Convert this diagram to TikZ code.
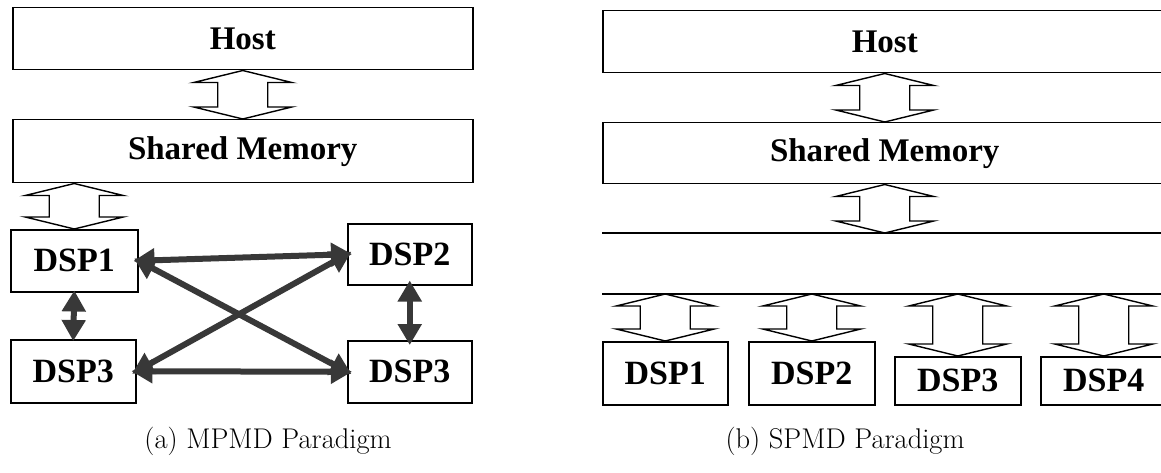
\documentclass[tikz,border=0pt]{standalone}
\usepackage{fontspec}
\newfontfamily\boxfont{Liberation Serif}[BoldFont={Liberation Serif Bold}]
\usetikzlibrary{arrows.meta,calc}

% bold Times-like labels inside the boxes
\newcommand\lbl{\boxfont\bfseries\fontsize{33}{38}\selectfont}
\newcommand\dsplbl{\boxfont\bfseries\fontsize{34}{40}\selectfont}
% spaced-out roman captions
\newcommand\capstyle{\fontsize{28.5}{34}\selectfont\addfontfeatures{LetterSpace=3}}

% hollow double-headed bus arrow between two points on the same vertical
\newcommand\busarrow[2]{%
  \draw[bus] let \p1=#1, \p2=#2 in
    (\x1,\y1) -- ++(49pt,-12pt) -- ++(-24pt,0pt)
    -- (\x1+25pt,\y2+12pt) -- ++(24pt,0pt) -- (\x1,\y2)
    -- ++(-49pt,12pt) -- ++(24pt,0pt)
    -- (\x1-25pt,\y1-12pt) -- ++(-24pt,0pt) -- cycle;}

\begin{document}
\begin{tikzpicture}[x=1pt,y=-1pt,
  box/.style={draw, line width=1.5pt, inner sep=0pt, anchor=north west, font=\lbl},
  dsp/.style={box, font=\dsplbl},
  bus/.style={draw, line width=1.4pt, fill=white, line join=miter},
  link/.style={draw=black!78, line width=6pt,
    {Triangle[length=21pt,width=23pt]}-{Triangle[length=21pt,width=23pt]},
    shorten <=-5pt, shorten >=-5pt},
  caption/.style={anchor=base, inner sep=0pt, font=\capstyle}]

\useasboundingbox (0,0) rectangle (1161,473);
\clip (0,0) rectangle (1161,473);

% ---------------- (a) MPMD ----------------
\node[box, minimum width=460pt, minimum height=62pt] (hostL) at (12,7) {Host};
\node[box, minimum width=460pt, minimum height=63pt] (smL) at (12,119) {Shared Memory};
\node[dsp, minimum width=127pt, minimum height=62pt] (dA1) at (10,229) {DSP1};
\node[dsp, minimum width=125pt, minimum height=63pt] (dA3) at (10,339) {DSP3};
\node[dsp, minimum width=124pt, minimum height=61pt] (dA2) at (347,223) {DSP2};
\node[dsp, minimum width=124pt, minimum height=62pt] (dA4) at (347,340) {DSP3};

\busarrow{(hostL.south)}{(smL.north)}
\busarrow{(smL.south -| dA1.north)}{(dA1.north)}

\draw[link] (dA1.east) -- (dA2.west);
\draw[link] (dA1.east) -- (dA4.west);
\draw[link] (dA3.east) -- (dA2.west);
\draw[link] (dA3.east) -- (dA4.west);
\draw[link, shorten <=-2pt, shorten >=-2pt] (dA1.south) -- (dA3.north);
\draw[link] (dA2.south) -- (dA4.north);

\node[caption] (capA) at (268,448) {(a) MPMD Paradigm};

% ---------------- (b) SPMD ----------------
\node[box, minimum width=564pt, minimum height=62pt] (hostR) at (602,10) {Host};
\node[box, minimum width=564pt, minimum height=61pt] (smR) at (602,122) {Shared Memory};

% shared bus drawn as two rails
\coordinate (busTL) at (602,233);
\coordinate (busTR) at (1166,233);
\coordinate (busBL) at (602,294);
\coordinate (busBR) at (1166,294);
\draw[line width=1.5pt] (busTL) -- (busTR);
\draw[line width=1.5pt] (busBL) -- (busBR);

\node[dsp, minimum width=125pt, minimum height=63pt] (dB1) at (602,341) {DSP1};
\node[dsp, minimum width=126pt, minimum height=63pt] (dB2) at (748,341) {DSP2};
\node[dsp, minimum width=126pt, minimum height=48pt] (dB3) at (894,356) {DSP3};
\node[dsp, minimum width=126pt, minimum height=48pt] (dB4) at (1040,356) {DSP4};

\busarrow{(hostR.south)}{(smR.north)}
\busarrow{(smR.south)}{(smR.south |- busTL)}
\busarrow{(busBL -| dB1.north)}{(dB1.north)}
\busarrow{(busBL -| dB2.north)}{(dB2.north)}
\busarrow{(busBL -| dB3.north)}{(dB3.north)}
\busarrow{(busBL -| dB4.north)}{(dB4.north)}

\node[caption] (capB) at (845,448) {(b) SPMD Paradigm};
\end{tikzpicture}
\end{document}
